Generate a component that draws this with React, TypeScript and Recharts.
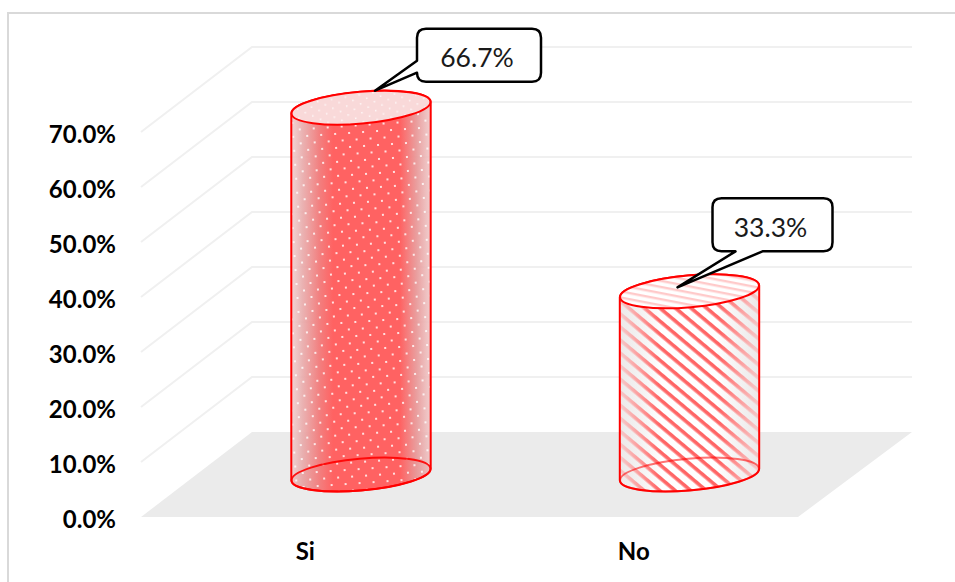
import React from 'react';
import { BarChart, Bar, XAxis, YAxis, CartesianGrid, LabelList } from 'recharts';

const categories = ['Si', 'No'];
const shares = [66.7, 33.3];
const yTicks = [0, 10, 20, 30, 40, 50, 60, 70];

const data = categories.map((name, i) => ({ name, share: shares[i] }));

// fake 3D box: how far the back wall sits from the front plane
const DEPTH_X = 111;
const DEPTH_Y = 85;
const WALL_RIGHT = 912;

// cylinder cap geometry
const CAP_RX = 69.7;
const CAP_RY = 15.9;
const CAP_TILT = -5;
const CAP_EDGE_DROP = 5.8;

const RED = '#ff0000';
const FONT = 'Lato, Carlito, sans-serif';

const pct = (v: number) => `${v.toFixed(1)}%`;

const gridLine = (props: any) => {
  const { x1, x2, y1, y, height, key } = props;
  const isFloor = Math.abs(y1 - (y + height)) < 0.5;
  const backY = y1 - DEPTH_Y;
  const backX = x1 + DEPTH_X;
  if (isFloor) {
    return (
      <polygon
        key={key}
        points={`${x1},${y1} ${x2},${y1} ${WALL_RIGHT},${backY} ${backX},${backY}`}
        fill="#ebebeb"
      />
    );
  }
  return (
    <polyline
      key={key}
      points={`${x1},${y1} ${backX},${backY} ${WALL_RIGHT},${backY}`}
      fill="none"
      stroke="#f0f0f0"
      strokeWidth={2}
    />
  );
};

const Patterns = () => (
  <defs>
    <linearGradient id="dotBody" x1="0" y1="0" x2="1" y2="0">
      <stop offset="0" stopColor="#f0cccc" stopOpacity={0.85} />
      <stop offset="0.08" stopColor="#e8aaaa" stopOpacity={0.9} />
      <stop offset="0.2" stopColor="#f28080" />
      <stop offset="0.3" stopColor="#ff6262" />
      <stop offset="0.78" stopColor="#ff6262" />
      <stop offset="0.9" stopColor="#e89a9a" stopOpacity={0.95} />
      <stop offset="1" stopColor="#eec6c6" stopOpacity={0.85} />
    </linearGradient>
    <linearGradient id="dotBase" x1="0" y1="0" x2="1" y2="0">
      <stop offset="0" stopColor="#d99a9a" />
      <stop offset="0.3" stopColor="#ff6a6a" />
      <stop offset="0.75" stopColor="#ff6a6a" />
      <stop offset="1" stopColor="#d99a9a" />
    </linearGradient>
    <pattern id="dots" width="14" height="14" patternUnits="userSpaceOnUse" patternTransform="rotate(-4)">
      <rect x="2" y="2" width="2" height="2" fill="#fff" fillOpacity={0.8} />
      <rect x="9" y="9" width="2" height="2" fill="#fff" fillOpacity={0.8} />
    </pattern>
    <pattern id="capDots" width="14" height="9" patternUnits="userSpaceOnUse" patternTransform="rotate(-4)">
      <rect x="2" y="2" width="1.5" height="1.5" fill="#fff" fillOpacity={0.8} />
      <rect x="9" y="6.5" width="1.5" height="1.5" fill="#fff" fillOpacity={0.8} />
    </pattern>
    <linearGradient id="stripeBody" x1="0" y1="0" x2="1" y2="0">
      <stop offset="0" stopColor="#e4e4e4" />
      <stop offset="0.3" stopColor="#ffffff" />
      <stop offset="0.7" stopColor="#ffffff" />
      <stop offset="1" stopColor="#e4e4e4" />
    </linearGradient>
    <linearGradient id="stripeFade" x1="0" y1="0" x2="1" y2="0">
      <stop offset="0" stopColor="#f0eaea" stopOpacity={0.75} />
      <stop offset="0.28" stopColor="#ffffff" stopOpacity={0} />
      <stop offset="0.72" stopColor="#ffffff" stopOpacity={0} />
      <stop offset="1" stopColor="#f0eaea" stopOpacity={0.75} />
    </linearGradient>
    <pattern id="stripes" width="10" height="10" patternUnits="userSpaceOnUse" patternTransform="rotate(40)">
      <rect x="0" y="0" width="10" height="3.6" fill="#ff6666" />
    </pattern>
    <pattern id="capStripes" width="6" height="6" patternUnits="userSpaceOnUse" patternTransform="rotate(16)">
      <rect x="0" y="0" width="6" height="2.4" fill="#ffcaca" />
    </pattern>
  </defs>
);

// Cylinder drawn on the mid-depth plane of the 3D box
const Cylinder = (props: any) => {
  const { x, y, width, height, index } = props;
  const cx = x + width / 2 + DEPTH_X / 2;
  const top = y - DEPTH_Y / 2;
  const base = y + height - DEPTH_Y / 2;
  const left = cx - CAP_RX;
  const right = cx + CAP_RX;

  const arc = `A${CAP_RX} ${CAP_RY} ${CAP_TILT} 0 0`;
  const body =
    `M${left} ${top + CAP_EDGE_DROP} L${left} ${base + CAP_EDGE_DROP} ` +
    `${arc} ${right} ${base - CAP_EDGE_DROP} L${right} ${top - CAP_EDGE_DROP} ` +
    `${arc} ${left} ${top + CAP_EDGE_DROP}Z`;
  const rotate = (cy: number) => `rotate(${CAP_TILT} ${cx} ${cy})`;
  const dotted = index === 0;

  return (
    <g>
      <Patterns />
      {dotted ? (
        <>
          <ellipse cx={cx} cy={base} rx={CAP_RX} ry={CAP_RY} transform={rotate(base)} fill="url(#dotBase)" />
          <path d={body} fill="url(#dotBody)" />
          <path d={body} fill="url(#dots)" />
        </>
      ) : (
        <>
          <path d={body} fill="url(#stripeBody)" />
          <path d={body} fill="url(#stripes)" />
          <path d={body} fill="url(#stripeFade)" />
        </>
      )}
      <ellipse
        cx={cx}
        cy={base}
        rx={CAP_RX}
        ry={CAP_RY}
        transform={rotate(base)}
        fill="none"
        stroke={RED}
        strokeWidth={2}
        strokeOpacity={dotted ? 0.9 : 0.55}
      />
      <path d={body} fill="none" stroke={RED} strokeWidth={2} />
      <ellipse
        cx={cx}
        cy={top}
        rx={CAP_RX}
        ry={CAP_RY}
        transform={rotate(top)}
        fill={dotted ? '#f9d9d9' : '#fff'}
        stroke="none"
      />
      <ellipse
        cx={cx}
        cy={top}
        rx={CAP_RX}
        ry={CAP_RY}
        transform={rotate(top)}
        fill={dotted ? 'url(#capDots)' : 'url(#capStripes)'}
        stroke={RED}
        strokeWidth={2}
      />
    </g>
  );
};

// Speech bubble per category, offsets measured from the cylinder's top centre
const bubbles = [
  { dx: 56, dy: -79, w: 124, h: 53, tipX: 14, tipY: -17, side: 'left', a: 32, b: 44 },
  { dx: 23, dy: -93, w: 120, h: 53, tipX: -12, tipY: -4, side: 'bottom', a: 23, b: 50 },
];

const Callout = (props: any) => {
  const { x, y, width, value, index } = props;
  const b = bubbles[index];
  const cx = x + width / 2 + DEPTH_X / 2;
  const top = y - DEPTH_Y / 2;
  const bx = cx + b.dx;
  const by = top + b.dy;
  const r = 9;
  const tip = `${cx + b.tipX} ${top + b.tipY}`;

  const leftEdge =
    b.side === 'left'
      ? `L${bx} ${by + b.b} L${tip} L${bx} ${by + b.a} L${bx} ${by + r}`
      : `L${bx} ${by + r}`;
  const bottomEdge =
    b.side === 'bottom'
      ? `L${bx + b.b} ${by + b.h} L${tip} L${bx + b.a} ${by + b.h} L${bx + r} ${by + b.h}`
      : `L${bx + r} ${by + b.h}`;
  const d =
    `M${bx + r} ${by} L${bx + b.w - r} ${by} Q${bx + b.w} ${by} ${bx + b.w} ${by + r} ` +
    `L${bx + b.w} ${by + b.h - r} Q${bx + b.w} ${by + b.h} ${bx + b.w - r} ${by + b.h} ` +
    `${bottomEdge} Q${bx} ${by + b.h} ${bx} ${by + b.h - r} ${leftEdge} Q${bx} ${by} ${bx + r} ${by}Z`;

  return (
    <g>
      <path d={d} fill="#fff" stroke="#000" strokeWidth={2.5} strokeLinejoin="round" />
      <text
        x={bx + b.w / 2 - 2}
        y={by + b.h / 2 + 12}
        textAnchor="middle"
        fontFamily={FONT}
        fontSize={26.5}
        fill="#1a1a1a"
      >
        {pct(value)}
      </text>
    </g>
  );
};

const App = () => (
  <div style={{ position: 'absolute', left: 0, top: 0, width: 955, height: 582, background: '#fff', overflow: 'hidden' }}>
    <div style={{ position: 'absolute', left: 7, top: 12, width: 948, height: 570, borderTop: '2px solid #d9d9d9', borderLeft: '2px solid #d9d9d9', boxSizing: 'border-box' }} />
    <div style={{ position: 'absolute', left: 0, top: 0 }}>
      <BarChart
        width={955}
        height={582}
        data={data}
        margin={{ top: 132, right: 157, bottom: 25, left: 41 }}
        barSize={139}
      >
        <CartesianGrid vertical={false} horizontal={gridLine} />
        <XAxis
          dataKey="name"
          height={40}
          axisLine={false}
          tickLine={false}
          tickSize={0}
          tickMargin={26}
          tick={{ fontFamily: FONT, fontWeight: 700, fontSize: 24, fill: '#000' }}
        />
        <YAxis
          width={100}
          domain={[0, 70]}
          ticks={yTicks}
          tickFormatter={pct}
          axisLine={false}
          tickLine={false}
          tickSize={0}
          tickMargin={25}
          tick={{ fontFamily: FONT, fontWeight: 700, fontSize: 24, fill: '#000', dy: 2 }}
        />
        <Bar dataKey="share" shape={Cylinder} isAnimationActive={false}>
          <LabelList dataKey="share" content={Callout} />
        </Bar>
      </BarChart>
    </div>
  </div>
);

export default App;
